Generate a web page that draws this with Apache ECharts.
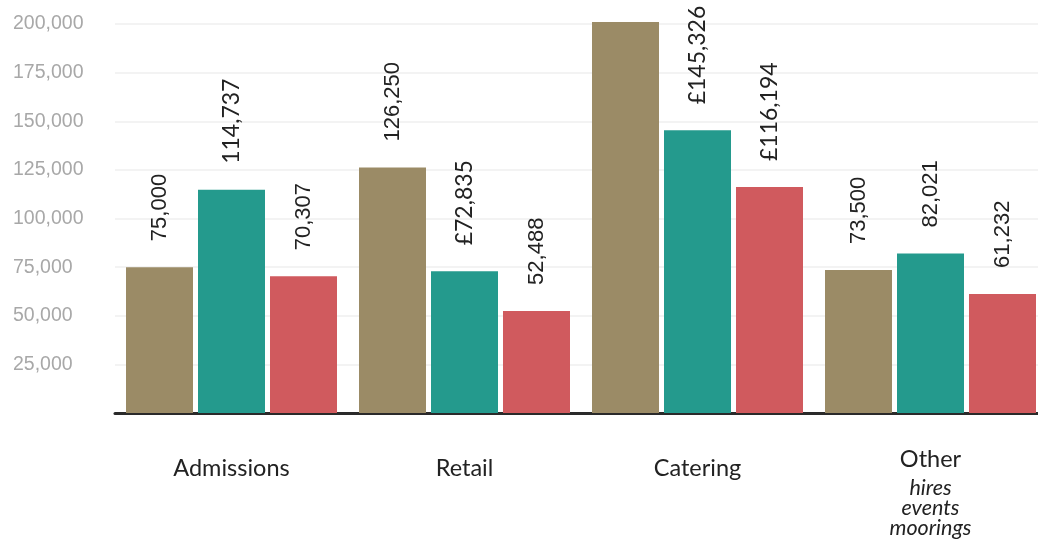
<!DOCTYPE html>
<html>
<head>
<meta charset="utf-8">
<script src="https://cdn.jsdelivr.net/npm/echarts@6/dist/echarts.min.js"></script>
<style>
html,body{margin:0;padding:0;background:#fff;}
#chart{width:1038px;height:540px;}
</style>
</head>
<body>
<div id="chart"></div>
<script>
// ---- data ----
const categories = ['Admissions', 'Retail', 'Catering', 'Other'];
const otherSubLines = ['hires', 'events', 'moorings'];
const seriesA = [75000, 126250, 201000, 73500];
const seriesB = [114737, 72835, 145326, 82021];
const seriesC = [70307, 52488, 116194, 61232];
const labelsA = ['75,000', '126,250', null, '73,500'];
const labelsB = ['114,737', '£72,835', '£145,326', '82,021'];
const labelsC = ['70,307', '52,488', '£116,194', '61,232'];
const yTicks = [0, 25000, 50000, 75000, 100000, 125000, 150000, 175000, 200000];

// ---- styling ----
const colors = ['#9b8b66', '#249a8d', '#d05a5e'];
const geoFont = 'Lato, "Open Sans", sans-serif';
const plainFont = '"Liberation Sans", Arial, sans-serif';
// which labels appear in the geometric face in the original
const geoLabel = [
  [false, false, false, false],
  [true, true, true, false],
  [false, false, true, false]
];

function buildData(values, labels, sIdx) {
  return values.map((v, i) => ({
    value: v,
    label: {
      show: labels[i] !== null,
      formatter: labels[i] === null ? '' : labels[i],
      fontFamily: geoLabel[sIdx][i] ? geoFont : plainFont,
      fontSize: geoLabel[sIdx][i] ? 23 : 22
    }
  }));
}

const labelBase = {
  show: true,
  position: 'top',
  rotate: 90,
  align: 'left',
  verticalAlign: 'middle',
  distance: 26,
  color: '#222',
  fontSize: 22
};

const chart = echarts.init(document.getElementById('chart'), null, {renderer: 'canvas'});
const option = {
  animation: false,
  backgroundColor: '#fff',
  grid: {left: 115, width: 932, top: 24, bottom: 127, containLabel: false, outerBoundsMode: 'none'},
  xAxis: {
    type: 'category',
    data: categories,
    axisLine: {show: true, lineStyle: {color: '#2a2a2a', width: 3}},
    axisTick: {show: false},
    axisLabel: {
      interval: 0,
      margin: 27,
      color: '#222',
      fontFamily: geoFont,
      formatter: function (v) {
        if (v === 'Other') {
          return '{o|' + v + '}\n' + otherSubLines.map(s => '{i|' + s + '}').join('\n');
        }
        return '{c|' + v + '}';
      },
      rich: {
        c: {fontSize: 23.5, lineHeight: 57, color: '#222', fontFamily: geoFont},
        o: {fontSize: 23.5, lineHeight: 38, color: '#222', fontFamily: geoFont},
        i: {fontSize: 21.5, lineHeight: 20, fontStyle: 'italic', color: '#222', fontFamily: geoFont}
      }
    }
  },
  yAxis: {
    type: 'value',
    min: yTicks[0],
    max: yTicks[yTicks.length - 1],
    interval: yTicks[1] - yTicks[0],
    axisLine: {show: false},
    axisTick: {show: false},
    splitLine: {show: true, lineStyle: {color: '#f3f3f3', width: 2}},
    axisLabel: {
      showMinLabel: false,
      align: 'left',
      margin: 102,
      color: '#a8a8a8',
      fontSize: 19.5,
      fontFamily: plainFont,
      formatter: v => v === 0 ? '' : v.toLocaleString('en-GB')
    }
  },
  series: [
    {type: 'bar', data: buildData(seriesA, labelsA, 0), barWidth: 67, barGap: '7.46%', clip: false,
     itemStyle: {color: colors[0]}, label: labelBase},
    {type: 'bar', data: buildData(seriesB, labelsB, 1), barWidth: 67, barGap: '7.46%', clip: false,
     itemStyle: {color: colors[1]}, label: labelBase},
    {type: 'bar', data: buildData(seriesC, labelsC, 2), barWidth: 67, barGap: '7.46%', clip: false,
     itemStyle: {color: colors[2]}, label: labelBase}
  ]
};
chart.setOption(option);
</script>
</body>
</html>
